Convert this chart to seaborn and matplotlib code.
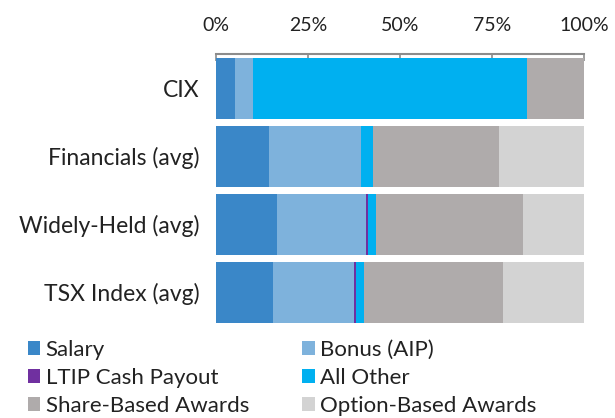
import numpy as np
import pandas as pd
import seaborn as sns
import matplotlib.pyplot as plt
from matplotlib.patches import Patch

sns.set_theme(style="white")
plt.rcParams['font.family'] = ['Lato', 'DejaVu Sans']

# 数据（从图中读取的百分比）
groups = ['CIX', 'Financials (avg)', 'Widely-Held (avg)', 'TSX Index (avg)']
components = ['Salary', 'Bonus (AIP)', 'LTIP Cash Payout', 'All Other',
              'Share-Based Awards', 'Option-Based Awards']
salary = [5.1, 14.4, 16.5, 15.4]
bonus = [5.1, 25.0, 24.2, 22.2]
ltip = [0.0, 0.0, 0.6, 0.4]
all_other = [74.3, 3.4, 2.2, 2.2]
share_based = [15.5, 34.1, 40.0, 37.7]
option_based = [0.0, 23.1, 16.5, 22.1]
colors = ['#3A87C8', '#7EB2DC', '#7030A0', '#00B0F0', '#AFABAB', '#D3D3D3']

df = pd.DataFrame({'group': groups, 'Salary': salary, 'Bonus (AIP)': bonus,
                   'LTIP Cash Payout': ltip, 'All Other': all_other,
                   'Share-Based Awards': share_based,
                   'Option-Based Awards': option_based})
cum = df[components].cumsum(axis=1)

fig = plt.figure(figsize=(6.15, 4.18), dpi=100)
ax = fig.add_axes([0.351, 0.218, 0.5985, 0.653])

# 堆叠条形：从最右侧累计值开始画，前面的覆盖后面的
for comp, col in reversed(list(zip(components, colors))):
    sns.barplot(x=cum[comp], y=df['group'], orient='h', color=col,
                width=0.9, saturation=1, ax=ax, edgecolor='none')

ax.set_xlim(0, 100)
ax.set_ylim(3.51, -0.51)
ax.set_xlabel('')
ax.set_ylabel('')
ax.xaxis.tick_top()
ax.set_xticks([0, 25, 50, 75, 100])
ax.set_xticklabels(['0%', '25%', '50%', '75%', '100%'])
ax.tick_params(axis='x', top=True, direction='in', length=5, width=1.2,
               color='#8c8c8c', labelsize=14, labelcolor='#222222', pad=14)
ax.tick_params(axis='y', left=False, labelsize=16.5, labelcolor='#222222', pad=6)
for s in ['left', 'right', 'bottom']:
    ax.spines[s].set_visible(False)
ax.spines['top'].set_color('#8c8c8c')
ax.spines['top'].set_linewidth(1.5)

# 图例按行排列（matplotlib按列填充，所以重排）
order = [0, 2, 4, 1, 3, 5]
handles = [Patch(facecolor=colors[i], edgecolor='none', label=components[i])
           for i in order]
fig.legend(handles=handles, loc='upper left', bbox_to_anchor=(0.0455, 0.187),
           ncol=2, frameon=False, fontsize=16, handlelength=0.55,
           handleheight=0.55, handletextpad=0.25, columnspacing=2.4,
           labelspacing=0.36, borderaxespad=0, borderpad=0,
           labelcolor='#222222')

fig.savefig('out.png', dpi=100)
